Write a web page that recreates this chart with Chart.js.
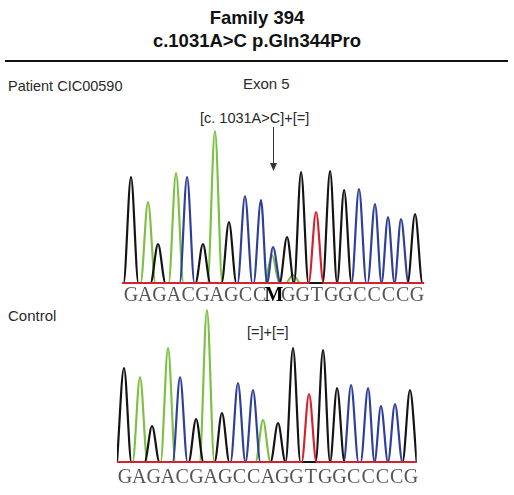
<!DOCTYPE html>
<html>
<head>
<meta charset="utf-8">
<script src="https://cdn.jsdelivr.net/npm/chart.js@4.4.1/dist/chart.umd.min.js"></script>
<style>
  body { margin: 0; background: #fff; width: 514px; height: 495px; overflow: hidden; position: relative; font-family: "Liberation Sans", Arial, sans-serif; }
  .t { position: absolute; white-space: nowrap; color: #2a2a2a; }
  .title { font-weight: bold; color: #111; font-size: 18.5px; line-height: 22px; left: 0; width: 514px; text-align: center; }
  .rule { position: absolute; left: 5px; width: 503px; top: 60px; height: 2px; background: #111; }
  canvas { position: absolute; left: 0; }
</style>
</head>
<body>
<div class="t title" style="top:7px">Family 394</div>
<div class="t title" style="top:30px">c.1031A&gt;C p.Gln344Pro</div>
<div class="rule"></div>
<div class="t" style="left:8px;top:78px;font-size:14.5px">Patient CIC00590</div>
<div class="t" style="left:243px;top:75px;font-size:15px">Exon 5</div>
<div class="t" style="left:200px;top:110px;font-size:14.5px">[c. 1031A&gt;C]+[=]</div>
<div class="t" style="left:8px;top:307px;font-size:15px">Control</div>
<div class="t" style="left:247px;top:324px;font-size:14.5px">[=]+[=]</div>

<canvas id="patient" width="514" height="193" style="top:115px"></canvas>
<canvas id="control" width="514" height="198" style="top:292px"></canvas>

<script>
// base calls under each trace
const patientSeq = 'GAGACGAGCCMGGTGGCCCCG'.split('');
const controlSeq = 'GAGACGAGCCAGGTGGCCCCG'.split('');

// peaks per dye: [position in base units, height]
const patientG = [[1.00, 106], [2.89, 39], [6.03, 39], [7.85, 61], [11.91, 46], [12.89, 111], [14.92, 112], [15.90, 93], [20.86, 69]];
const patientA = [[2.19, 81], [4.15, 110], [6.87, 152], [10.86, 28], [12.33, 8]];
const patientC = [[4.92, 106], [8.97, 87], [10.09, 83], [10.93, 36], [16.94, 94], [18.06, 79], [18.97, 66], [19.88, 64]];
const patientT = [[13.94, 71]];

const controlG = [[0.93, 94], [2.89, 36], [5.97, 43], [7.78, 49], [11.70, 39], [12.75, 114], [14.85, 112], [15.83, 74], [20.93, 72]];
const controlA = [[2.05, 85], [4.01, 114], [6.73, 152], [10.65, 42]];
const controlC = [[4.85, 85], [8.90, 79], [9.95, 72], [16.81, 77], [18.00, 74], [18.90, 56], [19.88, 58]];
const controlT = [[13.87, 68]];

const variantPos = 10.9;

const dyeColors = { G: '#141414', A: '#7cc143', C: '#2f3f9c', T: '#d4232e' };

// turn peak list into a trace that sits on the baseline between peaks
function buildTrace(peaks, min, max, w) {
  const list = peaks.slice().sort((a, b) => a[0] - b[0]);
  const pts = [{x: min, y: 0}];
  list.forEach(([pos, h], i) => {
    const prev = list[i - 1], next = list[i + 1];
    let left = pos - w;
    if (prev) left = Math.max(left, (prev[0] + pos) / 2);
    left = Math.max(left, min);
    if (left > pts[pts.length - 1].x + 0.001) pts.push({x: left, y: 0});
    pts.push({x: pos, y: h});
    let right = pos + w;
    if (next) right = Math.min(right, (pos + next[0]) / 2);
    right = Math.min(right, max);
    pts.push({x: right, y: 0});
  });
  if (pts[pts.length - 1].x < max - 0.001) pts.push({x: max, y: 0});
  return pts;
}

const arrowPlugin = {
  id: 'arrow',
  afterDraw(chart, args, opts) {
    if (!opts.at) return;
    const ctx = chart.ctx;
    const x = Math.round(chart.scales.x.getPixelForValue(opts.at)) + 0.5;
    ctx.save();
    ctx.strokeStyle = '#333';
    ctx.fillStyle = '#333';
    ctx.lineWidth = 1;
    ctx.beginPath();
    ctx.moveTo(x, opts.y0);
    ctx.lineTo(x, opts.y1 - 6);
    ctx.stroke();
    ctx.beginPath();
    ctx.moveTo(x - 3.5, opts.y1 - 8);
    ctx.lineTo(x + 3.5, opts.y1 - 8);
    ctx.lineTo(x, opts.y1);
    ctx.closePath();
    ctx.fill();
    ctx.restore();
  }
};

function makeChart(id, seq, dyes, cfg) {
  const w = 0.52;
  const datasets = [
    ['T', dyes.T], ['G', dyes.G], ['C', dyes.C], ['A', dyes.A]
  ].map(([base, peaks]) => ({
    label: base,
    data: buildTrace(peaks, cfg.min, cfg.max, w),
    borderColor: dyeColors[base],
    borderWidth: 2.2,
    pointRadius: 0,
    fill: false,
    cubicInterpolationMode: 'monotone'
  }));

  return new Chart(document.getElementById(id), {
    type: 'line',
    data: { datasets: datasets },
    options: {
      responsive: false,
      animation: false,
      events: [],
      layout: {
        padding: { top: cfg.padTop, left: cfg.padLeft, right: cfg.padRight, bottom: 0 }
      },
      plugins: {
        legend: { display: false },
        tooltip: { enabled: false },
        arrow: cfg.arrow || {}
      },
      scales: {
        x: {
          type: 'linear',
          min: cfg.min,
          max: cfg.max,
          grid: { display: false, drawTicks: false },
          border: { display: false },
          afterBuildTicks: s => { s.ticks = seq.map((_, i) => ({ value: i + 1 })); },
          afterFit: s => { s.height = cfg.axisHeight; },
          ticks: {
            autoSkip: false,
            maxRotation: 0,
            minRotation: 0,
            padding: cfg.tickPad,
            callback: (v, i) => seq[i],
            color: c => seq[c.index] === 'M' ? '#000' : '#555',
            font: c => ({
              family: '"Liberation Serif", "Times New Roman", serif',
              size: 20,
              weight: seq[c.index] === 'M' ? 'bold' : 'normal'
            })
          }
        },
        y: {
          display: false,
          min: cfg.yMin,
          max: 160
        }
      }
    },
    plugins: [arrowPlugin]
  });
}

makeChart('patient', patientSeq, { G: patientG, A: patientA, C: patientC, T: patientT }, {
  min: 0.4, max: 21.5, padTop: 8, padLeft: 122.4, padRight: 89.8,
  yMin: -1, axisHeight: 24, tickPad: 0,
  arrow: { at: variantPos, y0: 12, y1: 56 }
});

makeChart('control', controlSeq, { G: controlG, A: controlA, C: controlC, T: controlT }, {
  min: 0.44, max: 21.4, padTop: 10, padLeft: 117.0, padRight: 97.3,
  yMin: -2, axisHeight: 26, tickPad: 2
});
</script>
</body>
</html>
